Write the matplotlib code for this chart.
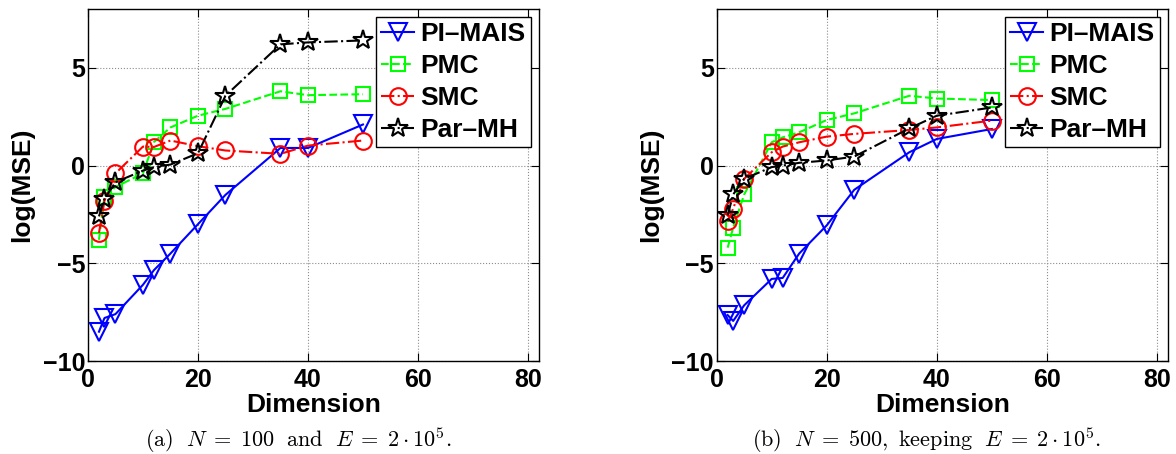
import matplotlib

matplotlib.use("Agg")
import matplotlib.pyplot as plt

plt.rcParams["font.family"] = ["Liberation Sans", "DejaVu Sans"]
plt.rcParams["font.weight"] = "bold"
plt.rcParams["mathtext.fontset"] = "cm"

DIMS = [2, 3, 5, 10, 12, 15, 20, 25, 35, 40, 50]
METHODS = ["PI\u2013MAIS", "PMC", "SMC", "Par\u2013MH"]

# panel (a): N = 100
A_PIMAIS = [-8.5, -7.8, -7.6, -6.1, -5.35, -4.5, -3.0, -1.5, 0.9, 0.9, 2.1]
A_PMC = [-3.8, -1.6, -1.1, -0.4, 1.2, 1.95, 2.55, 2.9, 3.8, 3.6, 3.65]
A_SMC = [-3.45, -1.8, -0.4, 0.97, 0.95, 1.28, 0.99, 0.77, 0.6, 1.02, 1.28]
A_PARMH = [-2.6, -1.7, -0.85, -0.26, -0.08, 0.05, 0.63, 3.57, 6.2, 6.3, 6.4]

# panel (b): N = 500
B_PIMAIS = [-7.65, -7.95, -7.15, -5.8, -5.75, -4.5, -3.06, -1.24, 0.68, 1.36, 1.87]
B_PMC = [-4.2, -3.18, -1.48, 1.19, 1.44, 1.7, 2.33, 2.67, 3.57, 3.43, 3.35]
B_SMC = [-2.86, -2.2, -0.68, 0.68, 0.97, 1.19, 1.48, 1.62, 1.82, 1.95, 2.3]
B_PARMH = [-2.55, -1.48, -0.68, -0.08, 0.0, 0.14, 0.26, 0.46, 1.9, 2.55, 2.97]

CAPTIONS = [
    r"$\mathrm{(a)}\ \ N\;=\;100\ \ \mathrm{and}\ \ E\;=\;2\cdot 10^5.$",
    r"$\mathrm{(b)}\ \ N\;=\;500,\ \mathrm{keeping}\ \ E\;=\;2\cdot 10^5.$",
]

_STYLES = [
    dict(color=(0, 0, 1), ls="-", marker="v", ms=13),
    dict(color=(0, 1, 0), ls="--", marker="s", ms=10),
    dict(color=(1, 0, 0), ls="-.", marker="o", ms=12),
    dict(color=(0, 0, 0), ls="-.", marker="*", ms=15),
]


def draw(ax, series):
    for name, ys, st in zip(METHODS, series, _STYLES):
        ax.plot(DIMS, ys, ls=st["ls"], color=st["color"], lw=1.5,
                marker=st["marker"], ms=st["ms"], mfc="none",
                mec=st["color"], mew=1.5, label=name)
    ax.set_xlim(0, 82)
    ax.set_ylim(-10, 8)
    ax.set_xticks([0, 20, 40, 60, 80])
    ax.set_yticks([-10, -5, 0, 5])
    ax.grid(True, ls=":", color="0.55", lw=0.8)
    ax.tick_params(direction="in", top=True, right=True, labelsize=18,
                   length=6)
    ax.tick_params(axis="x", pad=5)
    ax.tick_params(axis="y", pad=2)
    for sp in ax.spines.values():
        sp.set_linewidth(1.0)
    ax.set_xlabel("Dimension", fontsize=19, fontweight="bold", labelpad=1)
    ax.set_ylabel("log(MSE)", fontsize=19, fontweight="bold", labelpad=6)
    leg = ax.legend(loc="upper right", fontsize=19, handlelength=1.25,
                    borderpad=0.2, labelspacing=0.3, handletextpad=0.25,
                    borderaxespad=0.3, fancybox=False, framealpha=1)
    leg.get_frame().set_edgecolor("black")
    leg.get_frame().set_linewidth(1.0)


fig = plt.figure(figsize=(11.76, 4.54), dpi=100)
ax_a = fig.add_axes([0.0748, 0.2048, 0.3835, 0.775])
ax_b = fig.add_axes([0.6094, 0.2048, 0.3838, 0.775])
draw(ax_a, [A_PIMAIS, A_PMC, A_SMC, A_PARMH])
draw(ax_b, [B_PIMAIS, B_PMC, B_SMC, B_PARMH])
fig.text(0.254, 0.031, CAPTIONS[0], ha="center", va="center", fontsize=16)
fig.text(0.788, 0.031, CAPTIONS[1], ha="center", va="center", fontsize=16)
fig.savefig("out.png", dpi=100)
